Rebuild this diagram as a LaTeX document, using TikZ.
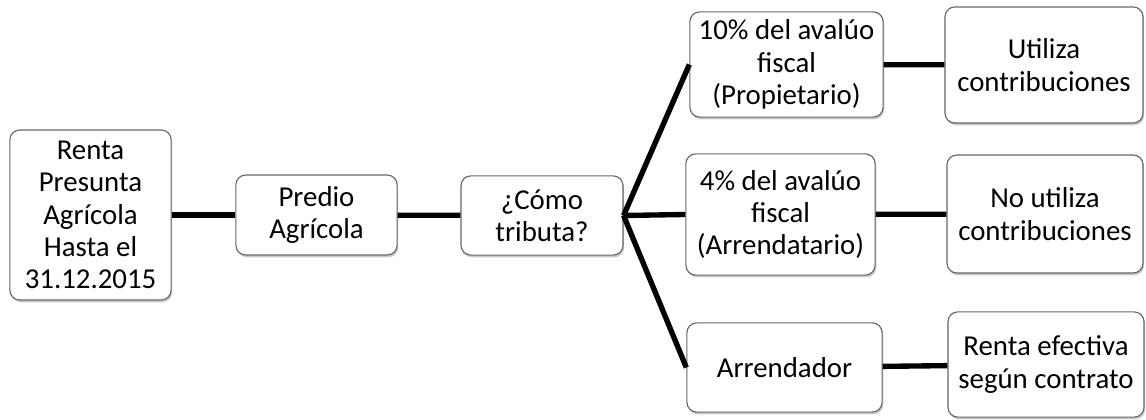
\documentclass[tikz,border=0pt]{standalone}
\usepackage{fontspec}
\setmainfont{Carlito}
\usetikzlibrary{shadows}

\tikzset{
  caja/.style={draw=black!60, line width=0.8pt, rounded corners=7pt, fill=white,
    align=center, inner sep=0pt, font=\fontsize{20.5}{23}\selectfont,
    drop shadow={shadow xshift=0.8pt, shadow yshift=-1.6pt, opacity=0.35, fill=black!60}},
  enlace/.style={line width=3.8pt, black}
}

\begin{document}
\begin{tikzpicture}[x=0.025cm, y=-0.025cm]
    \useasboundingbox (0, 0) rectangle (1146, 420);

    % Columna izquierda
    \node[caja, minimum width=4.03cm, minimum height=4.25cm] (renta) at (90.5, 215)
      {Renta\\Presunta\\Agrícola\\Hasta el\\31.12.2015};
    \node[caja, minimum width=4.03cm, minimum height=2cm] (predio) at (316.5, 215)
      {Predio\\Agrícola};
    \node[caja, minimum width=4.05cm, minimum height=1.98cm] (como) at (542, 215.5)
      {¿Cómo\\tributa?};

    % Formas de tributar
    \node[caja, minimum width=4.83cm, minimum height=2.63cm] (diez) at (786.5, 64.5)
      {10\% del avalúo\\fiscal\\(Propietario)};
    \node[caja, minimum width=4.73cm, minimum height=3.03cm] (cuatro) at (780.5, 214.5)
      {4\% del avalúo\\fiscal\\(Arrendatario)};
    \node[caja, minimum width=4.88cm, minimum height=2.23cm] (arrendador) at (784.5, 367.5)
      {Arrendador};

    % Columna derecha
    \node[caja, minimum width=4.95cm, minimum height=2.9cm] (utiliza) at (1044, 65)
      {Utiliza\\contribuciones};
    \node[caja, minimum width=4.9cm, minimum height=2.95cm] (noutiliza) at (1045, 214)
      {No utiliza\\contribuciones};
    \node[caja, minimum width=4.9cm, minimum height=2.63cm] (efectiva) at (1046, 364.5)
      {Renta efectiva\\según contrato};

    % Conectores
    \draw[enlace] (renta) -- (predio);
    \draw[enlace] (predio) -- (como);
    \draw[enlace] (como.east) -- (diez.west);
    \draw[enlace] (como.east) -- (cuatro.west);
    \draw[enlace] (como.east) -- (arrendador.west);
    \draw[enlace] (diez) -- (utiliza);
    \draw[enlace] (cuatro) -- (noutiliza);
    \draw[enlace] (arrendador) -- (efectiva);
  \end{tikzpicture}
\end{document}
